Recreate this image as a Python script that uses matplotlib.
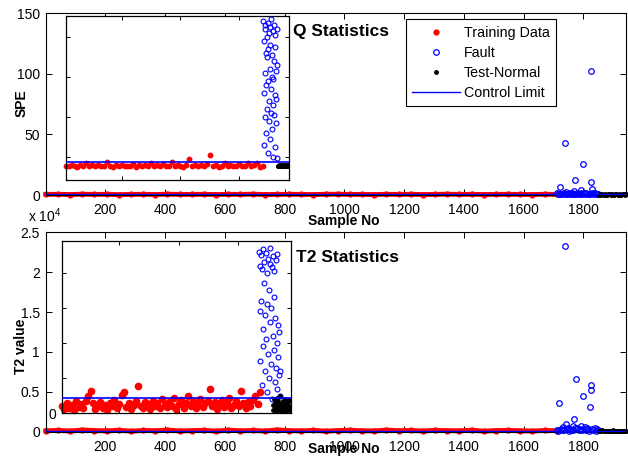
import numpy as np
import matplotlib.pyplot as plt

plt.rcParams['font.family'] = ['Liberation Sans', 'DejaVu Sans']
plt.rcParams['mathtext.default'] = 'regular'

# ---- main Q panel (SPE) ----
q_train_main = [0.5, 0.6, 0.4, 0.7, 0.5, 0.6, 0.3, 0.5, 0.6, 0.4, 0.7, 0.5, 0.5, 0.6,
                0.4, 0.6, 0.5, 0.7, 0.4, 0.5, 0.6, 0.5, 0.4, 0.6, 0.7, 0.5, 0.5, 0.4,
                0.6, 0.5, 0.6, 0.4, 0.5, 0.7, 0.5, 0.6, 0.4, 0.5, 0.6, 0.5, 0.4, 0.6, 0.5]
q_limit_main = 0.8
q_fault_x = [1712, 1716, 1720, 1722, 1726, 1730, 1734, 1738, 1739, 1742,
             1746, 1750, 1754, 1758, 1762, 1766, 1769, 1772, 1773, 1776,
             1780, 1784, 1788, 1792, 1793, 1796, 1800, 1802, 1806, 1810,
             1814, 1818, 1822, 1826, 1826, 1830, 1830, 1834, 1838, 1842, 1846, 1850]
q_fault_main = [1.5, 0.8, 1.2, 6.8, 1.0, 0.6, 1.8, 0.9, 42.6, 2.7,
                1.1, 0.7, 1.6, 0.9, 1.3, 0.8, 3.5, 1.2, 12.4, 0.9,
                1.7, 0.6, 1.1, 1.4, 4.1, 0.8, 25.3, 1.3, 0.7, 1.5,
                0.9, 1.2, 0.6, 102.5, 10.7, 4.9, 1.4, 0.8, 1.6, 0.9, 1.2, 0.7]
q_test_main = [0.4, 0.5, 0.3, 0.6, 0.4, 0.5, 0.4, 0.3, 0.5, 0.6, 0.4, 0.5,
               0.3, 0.4, 0.6, 0.5, 0.4, 0.3, 0.5, 0.4, 0.6, 0.5, 0.4, 0.5]

# ---- main T2 panel ----
t2_train_main = [150, 200, 120, 250, 180, 140, 220, 100, 190, 160, 240, 130, 170, 210,
                  110, 230, 150, 190, 120, 260, 170, 140, 200, 110, 180, 220, 150, 130,
                  240, 160, 190, 120, 210, 170, 140, 230, 100, 180, 200, 150, 120, 190, 160]
t2_limit_main = 150
t2_fault_x = [1712, 1716, 1720, 1724, 1728, 1732, 1736, 1739, 1741, 1744,
              1748, 1752, 1756, 1760, 1764, 1766, 1769, 1772, 1777, 1780,
              1784, 1788, 1793, 1796, 1800, 1804, 1808, 1812, 1816, 1820,
              1824, 1826, 1826, 1830, 1834, 1838, 1842, 1846, 1850]
t2_fault_main = [300, 150, 3600, 400, 200, 600, 250, 23300, 1000, 350,
                 500, 180, 420, 260, 700, 300, 1600, 450, 6600, 550,
                 200, 380, 750, 300, 4500, 600, 250, 480, 320, 150,
                 3100, 5900, 5300, 400, 220, 500, 180, 350, 200]
t2_test_main = [120, 160, 90, 200, 140, 110, 180, 130, 100, 170, 150, 120,
                190, 140, 100, 160, 130, 180, 110, 150, 170, 120, 140, 160]

# ---- inset Q (zoomed view) ----
q_train_in = [0.77, 0.76, 0.79, 0.78, 0.75, 0.80, 0.77, 0.84, 0.76, 0.79,
              0.78, 0.80, 0.76, 0.77, 0.87, 0.78, 0.75, 0.79, 0.77, 0.80,
              0.76, 0.78, 0.77, 0.83, 0.75, 0.79, 0.77, 0.80, 0.78, 0.85,
              0.76, 0.79, 0.77, 0.82, 0.76, 0.78, 0.86, 0.77, 0.80, 0.78,
              0.75, 0.79, 0.95, 0.77, 0.80, 0.76, 0.79, 0.78, 0.83, 1.04,
              0.77, 0.80, 0.75, 0.78, 0.84, 0.77, 0.79, 0.76, 0.78, 0.81,
              0.76, 0.78, 0.84, 0.77, 0.79, 0.85, 0.75, 0.78]
q_limit_in = 0.86
q_fault_in = [4.4, 2.6, 3.9, 1.3, 4.2, 3.1, 2.0, 4.3, 3.6, 1.6,
              2.8, 4.0, 2.2, 3.5, 1.1, 4.35, 2.9, 3.7, 1.9, 4.1,
              2.4, 3.2, 1.45, 4.25, 3.8, 2.1, 2.7, 4.45, 3.0, 1.7,
              3.55, 2.3, 4.15, 1.0, 2.95, 3.4, 4.3, 2.05, 1.25, 3.75,
              2.55, 4.05, 3.15, 1.85, 2.45, 0.98, 3.3, 4.2]
q_test_in = [0.78, 0.77, 0.79, 0.76, 0.78, 0.80, 0.77, 0.79, 0.78, 0.76,
             0.79, 0.77, 0.78, 0.80, 0.76, 0.78, 0.79, 0.77, 0.78, 0.79]

# ---- inset T2 (zoomed view, x 10^4) ----
t2_train_in = [0.10, 0.06, 0.15, 0.08, 0.12, 0.05, 0.17, 0.09, 0.13, 0.07,
               0.18, 0.24, 0.31, 0.14, 0.06, 0.11, 0.16, 0.08, 0.12, 0.05,
               0.14, 0.10, 0.19, 0.07, 0.13, 0.26, 0.30, 0.09, 0.15, 0.06,
               0.12, 0.17, 0.39, 0.11, 0.08, 0.16, 0.13, 0.06, 0.18, 0.10,
               0.14, 0.07, 0.20, 0.12, 0.09, 0.16, 0.11, 0.22, 0.06, 0.13,
               0.19, 0.08, 0.15, 0.24, 0.10, 0.17, 0.07, 0.12, 0.21, 0.09,
               0.14, 0.18, 0.34, 0.11, 0.16, 0.06, 0.13, 0.19, 0.09, 0.15,
               0.22, 0.07, 0.12, 0.17, 0.10, 0.31, 0.14, 0.08, 0.16, 0.11,
               0.19, 0.24, 0.13, 0.30]
t2_limit_in = 0.222
t2_fault_in = [2.30, 1.45, 2.10, 0.75, 2.25, 1.60, 0.40, 2.05, 1.20, 2.33,
               0.95, 1.85, 2.15, 0.60, 1.40, 2.28, 1.05, 0.30, 2.00, 1.55,
               0.85, 2.20, 1.75, 0.50, 2.12, 1.30, 2.35, 0.70, 1.50, 2.08,
               0.20, 1.10, 2.24, 1.65, 0.90, 2.02, 0.45, 1.35, 2.18, 0.65,
               1.00, 2.27, 0.35, 1.25, 0.80, 0.55, 1.15, 0.25, 0.60, 0.12]
t2_test_in = [0.12, 0.05, 0.20, 0.08, 0.15, 0.03, 0.22, 0.10, 0.06, 0.17,
              0.04, 0.13, 0.25, 0.07, 0.11, 0.02, 0.18, 0.09, 0.14, 0.05,
              0.21, 0.08, 0.12, 0.03, 0.16, 0.06, 0.10, 0.19, 0.04, 0.09]

fig = plt.figure(figsize=(6.28, 4.66), dpi=100)
ax1 = fig.add_axes([0.0725, 0.5815, 0.9244, 0.3906])
ax2 = fig.add_axes([0.0725, 0.073, 0.9244, 0.4291])
in1 = fig.add_axes([0.1046, 0.6137, 0.3561, 0.3526])
in2 = fig.add_axes([0.0987, 0.1131, 0.3642, 0.3697])


def main_panel(ax, train, limit, fx, fault, test):
    xt = np.linspace(1, 1711, len(train))
    ax.plot(xt, train, color='r', lw=3.5, clip_on=False, zorder=2)
    ax.plot(xt, train, 'o', color='r', ms=4.5, mec='none', clip_on=False,
            zorder=2, label='Training Data')
    ax.plot(fx, fault, 'o', mfc='none', mec='b', ms=4, mew=0.9,
            clip_on=False, zorder=3, label='Fault')
    ax.plot(np.linspace(1852, 1943, len(test)), test, 'k.', ms=5,
            clip_on=False, zorder=3, label='Test-Normal')
    ax.axhline(limit, color='b', lw=1, zorder=4, label='Control Limit')
    ax.set_xlim(0, 1943)
    ax.set_xticks(range(200, 1801, 200))
    ax.tick_params(direction='in', top=True, right=True, length=4.5,
                   width=0.7, labelsize=10)
    ax.tick_params(axis='x', pad=6)
    ax.tick_params(axis='y', pad=4)
    for s in ax.spines.values():
        s.set_linewidth(0.8)


def inset_panel(ax, train, limit, fault, test, xr, tr_end, f_rng, te_rng, ms_tr):
    ax.axhline(limit, color='b', lw=1.2, zorder=4)
    ax.plot(np.linspace(xr[0], tr_end, len(train)), train, 'o', color='r',
            ms=ms_tr, mec='none', clip_on=False, zorder=2)
    ax.plot(np.linspace(f_rng[0], f_rng[1], len(fault)), fault, 'o',
            mfc='none', mec='b', ms=3.5, mew=0.8, zorder=3)
    ax.plot(np.linspace(te_rng[0], te_rng[1], len(test)), test, 'o',
            color='k', ms=3.5, mec='none', zorder=3)
    ax.set_xlim(*xr)
    ax.set_xticks([200, 400, 600])
    ax.set_xticklabels([])
    ax.tick_params(direction='in', top=True, right=True, length=3,
                   width=0.7, labelsize=10, pad=4)
    for s in ax.spines.values():
        s.set_linewidth(0.9)


main_panel(ax1, q_train_main, q_limit_main, q_fault_x, q_fault_main, q_test_main)
ax1.set_ylim(0, 150)
ax1.set_yticks([0, 50, 100, 150])
ax1.set_ylabel('SPE', fontweight='bold', fontsize=10)
ax1.yaxis.set_label_coords(-0.030, 0.505)
ax1.set_xlabel('Sample No', fontweight='bold', fontsize=10)
ax1.xaxis.set_label_coords(0.514, -0.105)
ax1.text(0.426, 0.896, 'Q Statistics', transform=ax1.transAxes,
         fontsize=12.5, fontweight='bold', va='center')
leg = ax1.legend(loc='upper left', bbox_to_anchor=(0.621, 0.965),
                 fontsize=10.3, frameon=True, fancybox=False, framealpha=1,
                 edgecolor='k', borderaxespad=0, handlelength=3.3,
                 handletextpad=0.3, labelspacing=0.42, borderpad=0.45)
leg.get_frame().set_linewidth(0.8)
leg.set_zorder(10)

main_panel(ax2, t2_train_main, t2_limit_main, t2_fault_x, t2_fault_main, t2_test_main)
ax2.set_ylim(0, 25000)
ax2.set_yticks(np.arange(0, 25001, 5000))
ax2.set_yticklabels(['0', '0.5', '1', '1.5', '2', '2.5'])
ax2.set_ylabel('T2 value', fontweight='bold', fontsize=10)
ax2.yaxis.set_label_coords(-0.030, 0.43)
ax2.set_xlabel('Sample No', fontweight='bold', fontsize=10)
ax2.xaxis.set_label_coords(0.514, -0.0485)
ax2.text(0.4315, 0.8735, 'T2 Statistics', transform=ax2.transAxes,
         fontsize=12.5, fontweight='bold', va='center')
ax2.text(-0.030, 1.035, 'x 10$^4$', transform=ax2.transAxes, fontsize=10,
         va='bottom', ha='left')

inset_panel(in1, q_train_in, q_limit_in, q_fault_in, q_test_in,
            (10, 770), 680, (682, 729), (731, 770), 4.2)
in1.set_ylim(0.4175, 4.525)
in1.set_yticks([1, 2, 3, 4])
in1.set_yticklabels([])

inset_panel(in2, t2_train_in, t2_limit_in, t2_fault_in, t2_test_in,
            (9, 776), 673, (670, 742), (716, 776), 5.5)
in2.set_ylim(0, 2.45)
in2.set_yticks([0, 0.5, 1, 1.5, 2])
in2.set_yticklabels(['0', '', '', '', ''])

fig.savefig('out.png', dpi=100)
